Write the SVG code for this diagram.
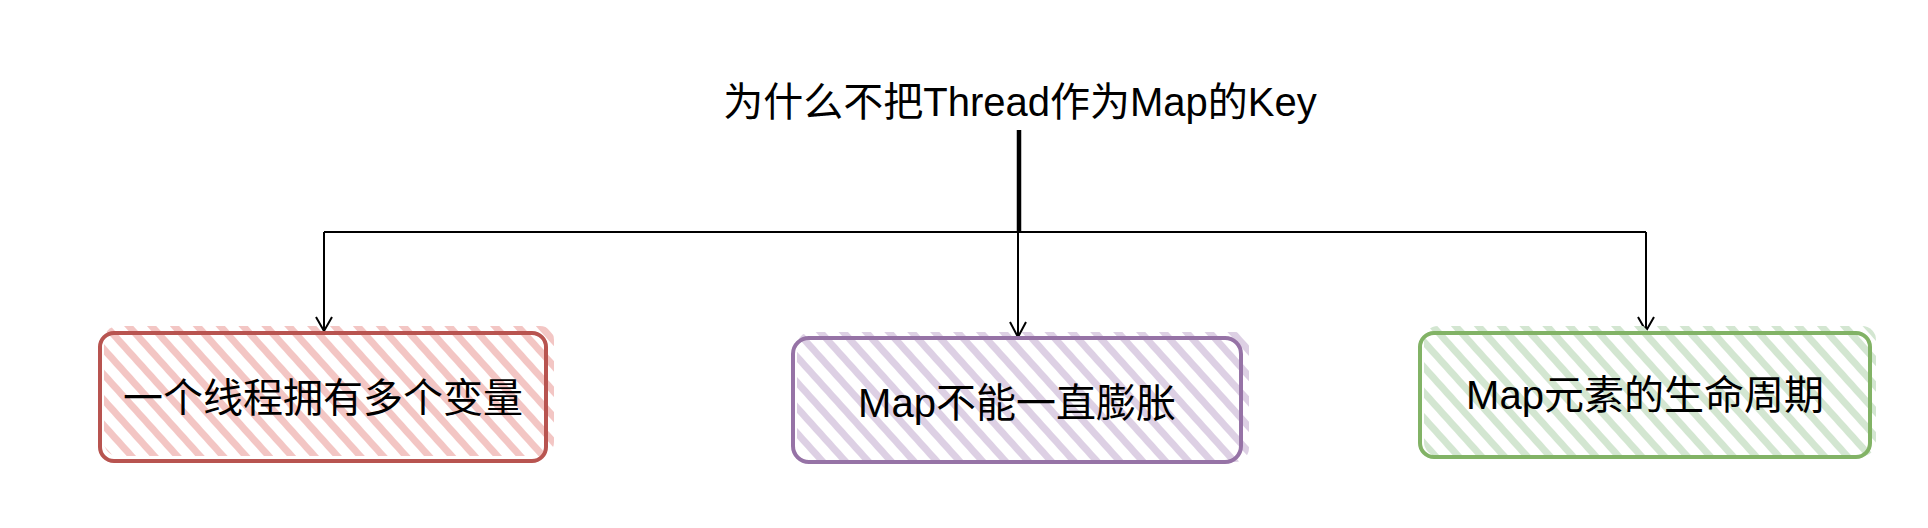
<svg xmlns="http://www.w3.org/2000/svg" width="1928" height="528" viewBox="0 0 1928 528">
<style>
.t{font-family:"Liberation Sans","Noto Sans CJK SC",sans-serif;font-size:40px;fill:#000;text-anchor:middle}
.c{fill:none;stroke:#000;stroke-width:2}
.arr{fill:none;stroke:#000;stroke-width:2;stroke-linejoin:miter}
</style>
<defs>
<pattern id="hr" patternUnits="userSpaceOnUse" width="17" height="17" patternTransform="rotate(48)"><rect x="0" y="0" width="17" height="7" fill="#f3c6c4"/></pattern>
<pattern id="hp" patternUnits="userSpaceOnUse" width="17" height="17" patternTransform="rotate(48)"><rect x="0" y="0" width="17" height="7" fill="#ddd0e4"/></pattern>
<pattern id="hg" patternUnits="userSpaceOnUse" width="17" height="17" patternTransform="rotate(48)"><rect x="0" y="0" width="17" height="7" fill="#d3e6d1"/></pattern>
</defs>
<rect width="1928" height="528" fill="#fff"/>
<g id="title"><text class="t" x="1020" y="116">为什么不把Thread作为Map的Key</text></g>
<g id="connectors">
<line x1="1019" y1="130" x2="1019" y2="232" stroke="#000" stroke-width="4.5"/>
<path class="c" d="M324 232 H1646"/>
<path class="c" d="M324 232 V330"/>
<path class="c" d="M1018 232 V336"/>
<path class="c" d="M1646 232 V330"/>
<path class="arr" d="M316 317 L324 331 L332 317"/>
<path class="arr" d="M1010 322 L1018 337 L1026 322"/>
<path class="arr" d="M1638 317 L1646 331 L1654 317"/>
</g>
<g id="node1">
<rect x="104" y="326" width="450" height="130" rx="14" fill="url(#hr)"/>
<rect x="100" y="333" width="446" height="128" rx="14" fill="none" stroke="#b85450" stroke-width="4"/>
<text class="t" x="323" y="412">一个线程拥有多个变量</text>
</g>
<g id="node2">
<rect x="797" y="332" width="452" height="130" rx="14" fill="url(#hp)"/>
<rect x="793" y="338" width="448" height="124" rx="16" fill="none" stroke="#9673a6" stroke-width="4"/>
<text class="t" x="1017" y="417">Map不能一直膨胀</text>
</g>
<g id="node3">
<rect x="1424" y="326" width="452" height="130" rx="14" fill="url(#hg)"/>
<rect x="1420" y="333" width="450" height="124" rx="14" fill="none" stroke="#82b366" stroke-width="4"/>
<text class="t" x="1645" y="409">Map元素的生命周期</text>
</g>
</svg>
